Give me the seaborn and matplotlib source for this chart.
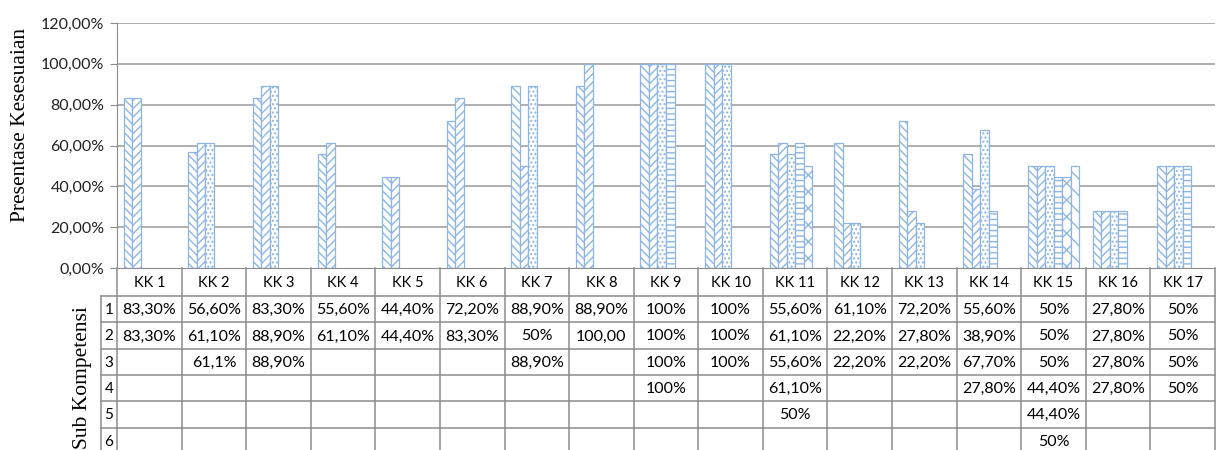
import numpy as np
import pandas as pd
import matplotlib
matplotlib.use("Agg")
import matplotlib.pyplot as plt
import seaborn as sns

# Kompetensi kerja (KK) and the sub-competency rows of the data table
categories = [f"KK {i}" for i in range(1, 18)]
sub_levels = ["1", "2", "3", "4", "5", "6"]

# Table entries per sub-competency (empty string = no sub-competency)
sub1 = ["83,30%", "56,60%", "83,30%", "55,60%", "44,40%", "72,20%", "88,90%", "88,90%", "100%",
        "100%", "55,60%", "61,10%", "72,20%", "55,60%", "50%", "27,80%", "50%"]
sub2 = ["83,30%", "61,10%", "88,90%", "61,10%", "44,40%", "83,30%", "50%", "100,00", "100%",
        "100%", "61,10%", "22,20%", "27,80%", "38,90%", "50%", "27,80%", "50%"]
sub3 = ["", "61,1%", "88,90%", "", "", "", "88,90%", "", "100%",
        "100%", "55,60%", "22,20%", "22,20%", "67,70%", "50%", "27,80%", "50%"]
sub4 = ["", "", "", "", "", "", "", "", "100%",
        "", "61,10%", "", "", "27,80%", "44,40%", "27,80%", "50%"]
sub5 = ["", "", "", "", "", "", "", "", "",
        "", "50%", "", "", "", "44,40%", "", ""]
sub6 = ["", "", "", "", "", "", "", "", "",
        "", "", "", "", "", "50%", "", ""]
table_rows = [sub1, sub2, sub3, sub4, sub5, sub6]


def to_value(label):
    return float(label.replace("%", "").replace(",", "."))


records = []
for lvl, row in zip(sub_levels, table_rows):
    for kk, lab in zip(categories, row):
        if lab:
            records.append({"kk": kk, "sub": lvl, "nilai": to_value(lab)})
df = pd.DataFrame(records)

W, H = 1225, 450
fig = plt.figure(figsize=(W / 100, H / 100), dpi=100)
plt.rcParams["hatch.linewidth"] = 1.0

num_font = "Lato"
serif_font = "Liberation Serif"
grid_col = "#9A9A9A"
line_col = "#8C8C8C"

x0, x1 = 117, 1215
y_top, y_zero = 23, 268
ax = fig.add_axes([x0 / W, 1 - y_zero / H, (x1 - x0) / W, (y_zero - y_top) / H])

sns.barplot(data=df, x="kk", y="nilai", hue="sub", order=categories, hue_order=sub_levels,
            width=0.79, errorbar=None, legend=False, saturation=1, ax=ax)

hatches = ["\\\\\\\\", "////", "....", "---", "xx", "\\\\"]
bar_col = "#8DB5E6"
group_w = 0.79
slot = group_w / len(sub_levels)
for p in ax.patches:
    cx = p.get_x() + p.get_width() / 2
    off = cx - round(cx)
    idx = int(round((off + group_w / 2 - slot / 2) / slot))
    idx = min(max(idx, 0), 5)
    p.set_facecolor("white")
    p.set_edgecolor(bar_col)
    p.set_linewidth(0.9)
    p.set_hatch(hatches[idx])

ax.set_xlim(-0.5, len(categories) - 0.5)
ax.set_ylim(0, 120)
ax.set_yticks(np.arange(0, 121, 20))
ax.set_yticklabels([f"{v:.2f}".replace(".", ",") + "%" for v in np.arange(0, 121, 20)],
                   fontfamily=num_font, fontsize=11.5, color="#222222")
ax.set_xticks([])
ax.set_xlabel("")
ax.set_ylabel("")
ax.grid(False)
for v in np.arange(20, 121, 20):
    ax.axhline(v, color=grid_col, lw=1.1, zorder=0)
for s in ["top", "right"]:
    ax.spines[s].set_visible(False)
ax.spines["left"].set_color(line_col)
ax.spines["bottom"].set_color(line_col)
ax.tick_params(axis="y", length=5, color=line_col, pad=4)
ax.set_facecolor("none")

fig.text(21 / W, 1 - 125 / H, "Presentase Kesesuaian", rotation=90, ha="center", va="center",
         fontfamily=serif_font, fontsize=15.5)

# Data table below the plot area
tab = fig.add_axes([x0 / W, 0, (x1 - x0) / W, (H - y_zero) / H])
tab.set_xlim(-0.5, len(categories) - 0.5)
tab.set_ylim(H - y_zero, 0)
tab.axis("off")

header_h = 28
row_h = 26.3
label_left = -0.5 - (x0 - 101) / ((x1 - x0) / len(categories))
tab_bottom = H - y_zero + 5

for i, kk in enumerate(categories):
    tab.text(i, header_h / 2 + 1, kk, ha="center", va="center", fontfamily=num_font, fontsize=10.5)
for k in range(len(categories) + 1):
    tab.plot([k - 0.5, k - 0.5], [0, tab_bottom], color=line_col, lw=1.1, clip_on=False)
for r in range(len(sub_levels) + 1):
    y = header_h + r * row_h
    tab.plot([label_left, len(categories) - 0.5], [y, y], color=line_col, lw=1.1, clip_on=False)
tab.plot([label_left, label_left], [header_h, tab_bottom], color=line_col, lw=1.1, clip_on=False)

for r, (lvl, row) in enumerate(zip(sub_levels, table_rows)):
    yc = header_h + (r + 0.5) * row_h + 1
    tab.text((label_left - 0.5) / 2, yc, lvl, ha="center", va="center",
             fontfamily=num_font, fontsize=11, clip_on=False)
    for i, lab in enumerate(row):
        if lab:
            tab.text(i, yc, lab, ha="center", va="center", fontfamily=num_font, fontsize=11.5)

fig.text(83 / W, 1 - 378 / H, "Sub Kompetensi", rotation=90, ha="center", va="center",
         fontfamily=serif_font, fontsize=15.5)

fig.savefig("out.png", dpi=100)
